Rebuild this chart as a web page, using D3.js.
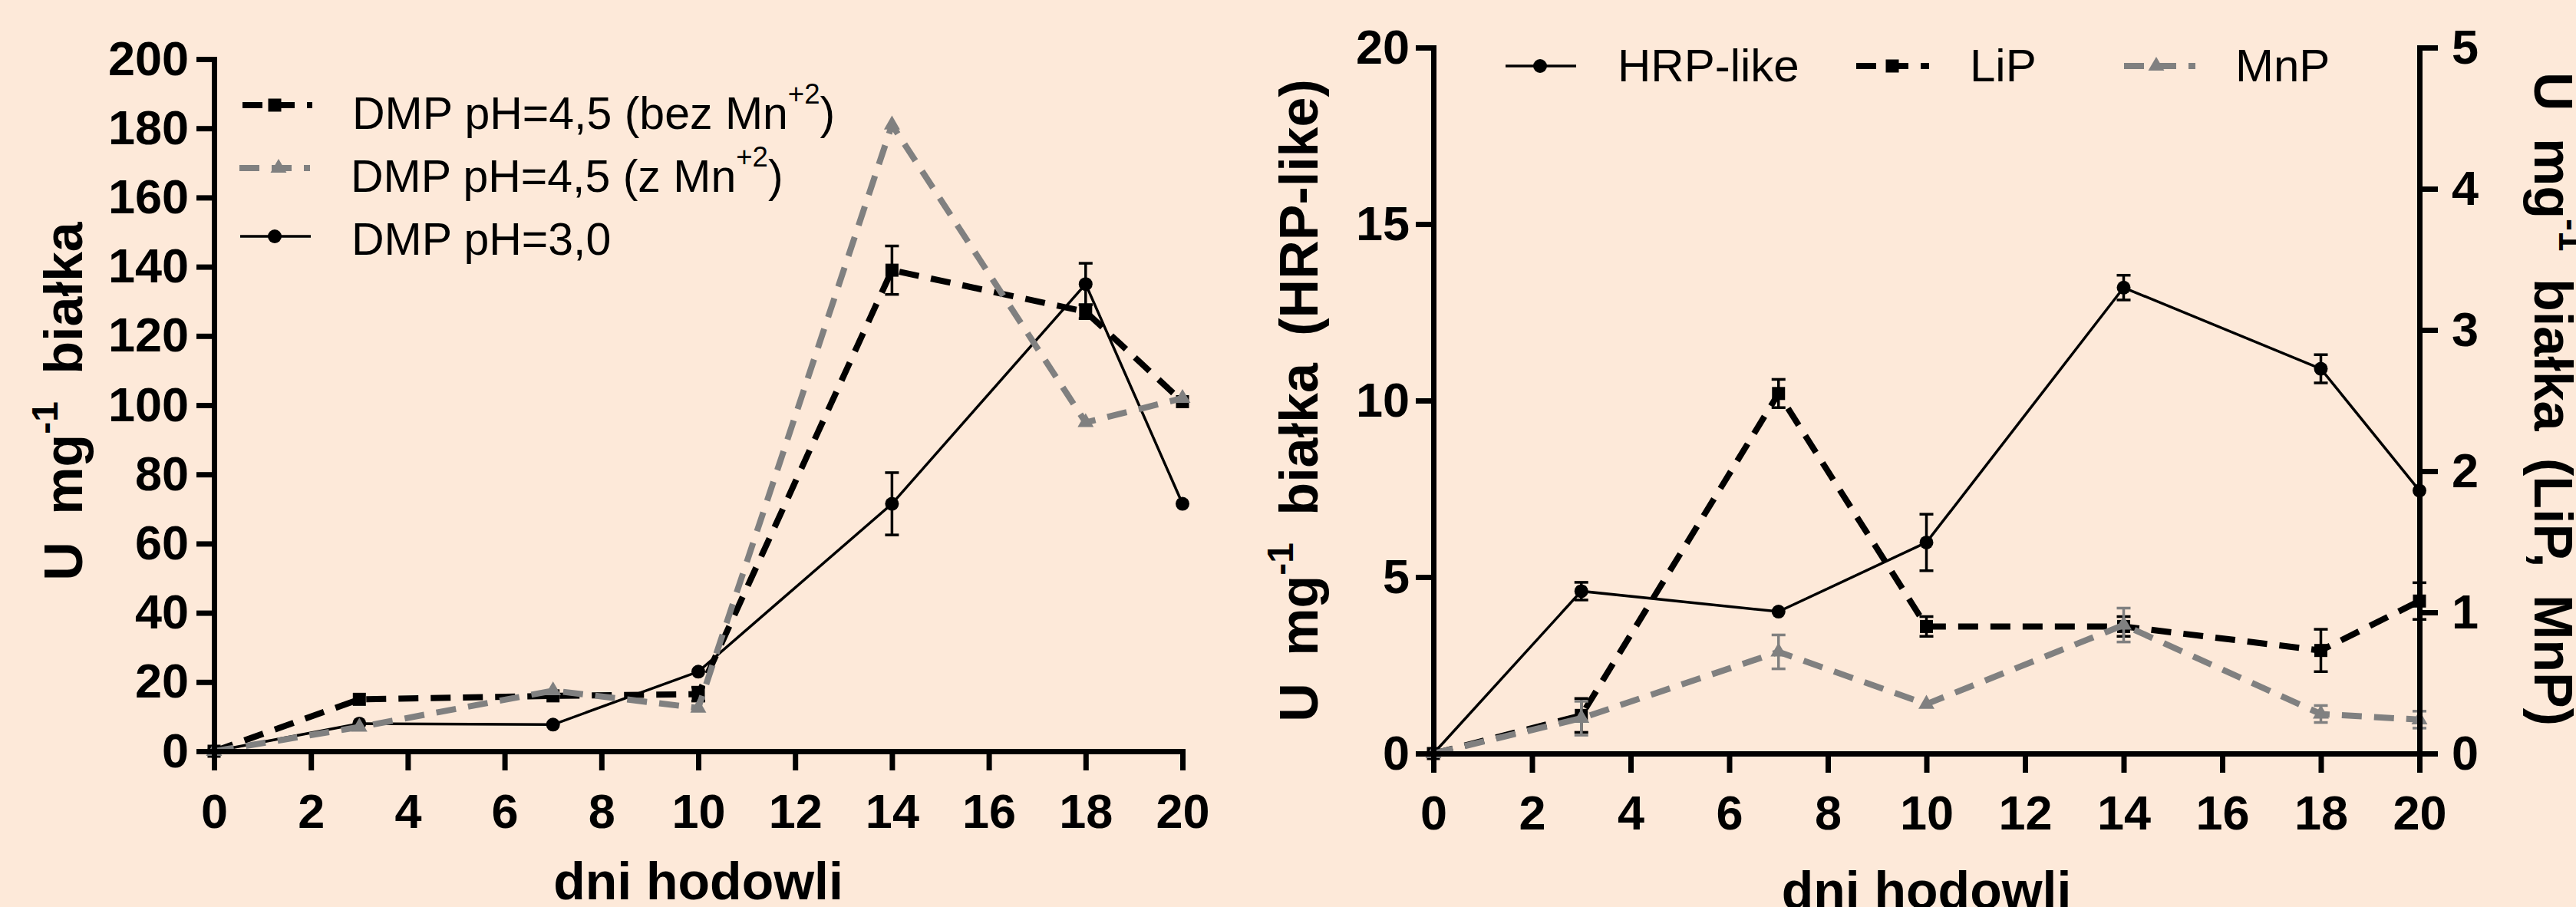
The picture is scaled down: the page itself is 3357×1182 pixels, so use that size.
<!DOCTYPE html>
<html>
<head>
<meta charset="utf-8">
<script src="https://cdn.jsdelivr.net/npm/d3@7/dist/d3.min.js"></script>
<style>
    body { margin: 0; background: #fde9d9; }
    svg { display: block; }
</style>
</head>
<body>
<svg id="chart" width="3357" height="1182"></svg>
<script>
// days of culture (x values), shared by both panels
const days = [0, 3, 7, 10, 14, 18, 20];
const dayTicks = [0, 2, 4, 6, 8, 10, 12, 14, 16, 18, 20];

// left panel: DMP activity
const leftTicks = [0, 20, 40, 60, 80, 100, 120, 140, 160, 180, 200];
const dmpBezMn = [0, 15, 16, 16.5, 139, 127, 101];
const dmpBezMnErr = [0, 0, 0, 2, 7, 2, 0];
const dmpZMn = [0, 7, 17.5, 12.5, 181, 95, 102];
const dmpZMnErr = [0, 0, 0, 0, 0, 0, 0];
const dmpPh3 = [0, 8, 7.7, 23, 71.5, 135, 71.5];
const dmpPh3Err = [0, 0, 0, 0, 9, 6, 0];
const leftLegend = [
    ['DMP pH=4,5 (bez Mn', '+2', ')'],
    ['DMP pH=4,5 (z Mn', '+2', ')'],
    ['DMP pH=3,0', '', '']
];

// right panel: peroxidases
const rightTicksL = [0, 5, 10, 15, 20];
const rightTicksR = [0, 1, 2, 3, 4, 5];
const hrp = [0, 4.6, 4.02, 5.98, 13.2, 10.9, 7.45];
const hrpErr = [0, 0.25, 0, 0.8, 0.35, 0.4, 0];
const lip = [0, 0.27, 2.55, 0.9, 0.9, 0.73, 1.08];
const lipErr = [0, 0.12, 0.1, 0.07, 0.07, 0.15, 0.13];
const mnp = [0, 0.25, 0.72, 0.35, 0.91, 0.28, 0.24];
const mnpErr = [0, 0.12, 0.12, 0, 0.12, 0.06, 0.06];
const rightLegend = ['HRP-like', 'LiP', 'MnP'];

const FONT = '"Liberation Sans", Arial, Helvetica, sans-serif';
const GREY = '#808080';
const DASH = '26,16';

const svg = d3.select('#chart');
svg.append('rect').attr('width', 3357).attr('height', 1182).attr('fill', '#fde9d9');

function symbolPath(kind) {
    if(kind === 'circle') return d3.symbol(d3.symbolCircle, 254)();
    if(kind === 'square') return d3.symbol(d3.symbolSquare, 289)();
    return d3.symbol(d3.symbolTriangle, 190)();
}

function styleAxis(g) {
    g.attr('font-family', FONT)
        .attr('font-size', 63)
        .attr('font-weight', 'bold');
    g.select('.domain').attr('stroke-width', 7);
    g.selectAll('.tick line').attr('stroke-width', 7);
}

function drawSeries(g, x, y, s) {
    let line = d3.line()
        .x((d, i) => x(days[i]))
        .y(d => y(d));

    g.append('path')
        .datum(s.values)
        .attr('d', line)
        .attr('fill', 'none')
        .attr('stroke', s.color)
        .attr('stroke-width', s.width)
        .attr('stroke-dasharray', s.dash);

    // error bars with caps
    s.values.forEach((v, i) => {
        let e = s.errors[i];
        if(!e) return;
        let cx = x(days[i]);
        let bar = g.append('g')
            .attr('stroke', s.color)
            .attr('stroke-width', 3.5);
        bar.append('line').attr('x1', cx).attr('x2', cx).attr('y1', y(v - e)).attr('y2', y(v + e));
        bar.append('line').attr('x1', cx - 9).attr('x2', cx + 9).attr('y1', y(v - e)).attr('y2', y(v - e));
        bar.append('line').attr('x1', cx - 9).attr('x2', cx + 9).attr('y1', y(v + e)).attr('y2', y(v + e));
    });

    g.selectAll(null)
        .data(s.values)
        .join('path')
        .attr('transform', (d, i) => `translate(${x(days[i])},${y(d)})`)
        .attr('d', symbolPath(s.marker))
        .attr('fill', s.color);
}

function legendItem(g, s, x1, x2, mx, ly, tx, ty, size, label) {
    g.append('line')
        .attr('x1', x1).attr('x2', x2)
        .attr('y1', ly).attr('y2', ly)
        .attr('stroke', s.color)
        .attr('stroke-width', s.width)
        .attr('stroke-dasharray', s.dash);
    g.append('path')
        .attr('transform', `translate(${mx},${ly})`)
        .attr('d', symbolPath(s.marker))
        .attr('fill', s.color);
    let t = g.append('text')
        .attr('x', tx).attr('y', ty)
        .attr('font-family', FONT)
        .attr('font-size', size)
        .attr('fill', '#000');
    t.append('tspan').text(label[0]);
    if(label[1]) {
        t.append('tspan').attr('font-size', size * 0.62).attr('dy', -33).text(label[1]);
        t.append('tspan').attr('dy', 33).text(label[2]);
    }
}

function yTitle(g, cx, cy, angle, main, tail) {
    let t = g.append('text')
        .attr('transform', `translate(${cx},${cy}) rotate(${angle})`)
        .attr('text-anchor', 'middle')
        .attr('font-family', FONT)
        .attr('font-size', 70)
        .attr('font-weight', 'bold')
        .attr('word-spacing', 16)
        .attr('fill', '#000');
    t.append('tspan').text('U mg');
    t.append('tspan').attr('font-size', 48).attr('dy', -32).text('-1');
    t.append('tspan').attr('dy', 32).text(' ' + main);
    if(tail) t.append('tspan').text(' ' + tail);
}

function xTitle(g, cx, by) {
    g.append('text')
        .attr('x', cx).attr('y', by)
        .attr('text-anchor', 'middle')
        .attr('font-family', FONT)
        .attr('font-size', 68)
        .attr('font-weight', 'bold')
        .text('dni hodowli');
}

// ---------- left panel ----------
(function() {
    let g = svg.append('g');
    let x = d3.scaleLinear().domain([0, 20]).range([279, 1541]);
    let y = d3.scaleLinear().domain([0, 200]).range([979, 77]);

    let series = [
        {values: dmpPh3, errors: dmpPh3Err, color: '#000', width: 3.5, dash: null, marker: 'circle'},
        {values: dmpBezMn, errors: dmpBezMnErr, color: '#000', width: 8, dash: DASH, marker: 'square'},
        {values: dmpZMn, errors: dmpZMnErr, color: GREY, width: 8, dash: DASH, marker: 'triangle'}
    ];
    series.forEach(s => drawSeries(g, x, y, s));

    let ya = g.append('g')
        .attr('transform', `translate(${x(0)},0)`)
        .call(d3.axisLeft(y).tickValues(leftTicks).tickFormat(d3.format('d'))
            .tickSize(23).tickSizeOuter(23).tickPadding(10));
    styleAxis(ya);

    let xa = g.append('g')
        .attr('transform', `translate(0,${y(0)})`)
        .call(d3.axisBottom(x).tickValues(dayTicks).tickFormat(d3.format('d'))
            .tickSize(25).tickSizeOuter(25));
    styleAxis(xa);
    xa.selectAll('.tick text').attr('dy', null).attr('y', 100);

    legendItem(g, series[1], 316, 407, 358, 137, 459, 168, 59, leftLegend[0]);
    legendItem(g, series[2], 312, 404, 363, 219, 457, 250, 59, leftLegend[1]);
    legendItem(g, series[0], 313, 405, 358, 308, 458, 332, 59, leftLegend[2]);

    yTitle(g, 107, 523, -90, 'białka', '');
    xTitle(g, (x(0) + x(20)) / 2, 1172);
})();

// ---------- right panel ----------
(function() {
    let g = svg.append('g');
    let x = d3.scaleLinear().domain([0, 20]).range([1868, 3153]);
    let yL = d3.scaleLinear().domain([0, 20]).range([982, 62]);
    let yR = d3.scaleLinear().domain([0, 5]).range([982, 62]);

    let sHrp = {values: hrp, errors: hrpErr, color: '#000', width: 3.5, dash: null, marker: 'circle'};
    let sLip = {values: lip, errors: lipErr, color: '#000', width: 8, dash: DASH, marker: 'square'};
    let sMnp = {values: mnp, errors: mnpErr, color: GREY, width: 8, dash: DASH, marker: 'triangle'};
    drawSeries(g, x, yL, sHrp);
    drawSeries(g, x, yR, sLip);
    drawSeries(g, x, yR, sMnp);

    let yla = g.append('g')
        .attr('transform', `translate(${x(0)},0)`)
        .call(d3.axisLeft(yL).tickValues(rightTicksL).tickFormat(d3.format('d'))
            .tickSize(23).tickSizeOuter(23).tickPadding(8));
    styleAxis(yla);

    let yra = g.append('g')
        .attr('transform', `translate(${x(20)},0)`)
        .call(d3.axisRight(yR).tickValues(rightTicksR).tickFormat(d3.format('d'))
            .tickSize(24).tickSizeOuter(24).tickPadding(18));
    styleAxis(yra);

    let xa = g.append('g')
        .attr('transform', `translate(0,${yL(0)})`)
        .call(d3.axisBottom(x).tickValues(dayTicks).tickFormat(d3.format('d'))
            .tickSize(25).tickSizeOuter(25));
    styleAxis(xa);
    xa.selectAll('.tick text').attr('dy', null).attr('y', 99);

    legendItem(g, sHrp, 1962, 2054, 2007, 86, 2108, 106, 60, [rightLegend[0], '', '']);
    legendItem(g, sLip, 2419, 2514, 2466, 86, 2567, 106, 60, [rightLegend[1], '', '']);
    legendItem(g, sMnp, 2768, 2861, 2810, 86, 2913, 106, 60, [rightLegend[2], '', '']);

    yTitle(g, 1717, 522, -90, 'białka', '(HRP-like)');
    yTitle(g, 3303, 520, 90, 'białka', '(LiP, MnP)');
    xTitle(g, (x(0) + x(20)) / 2, 1184);
})();
</script>
</body>
</html>
